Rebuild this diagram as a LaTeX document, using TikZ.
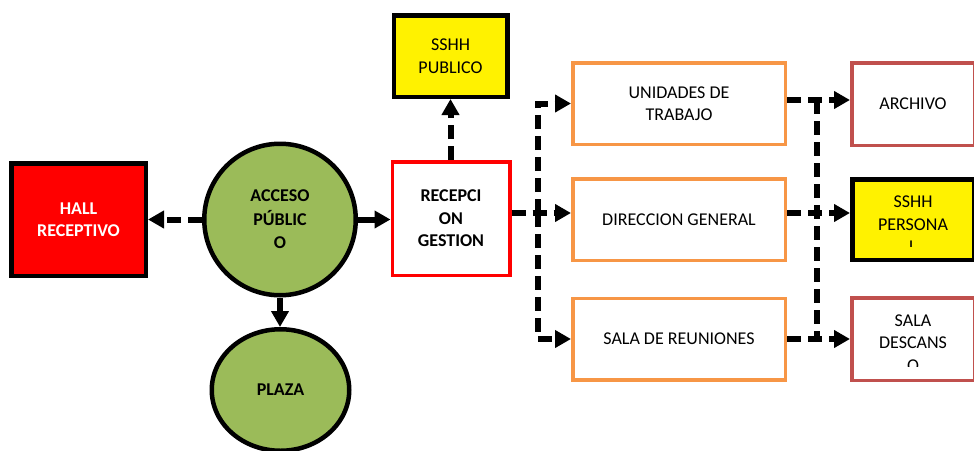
\documentclass[tikz,border=0pt]{standalone}
\usepackage{fontspec}
\setmainfont{Carlito}
\usetikzlibrary{arrows.meta,shapes.geometric}

\definecolor{plazagreen}{HTML}{9BBB59}
\definecolor{officeorange}{HTML}{F79646}
\definecolor{roomred}{HTML}{C0504D}

\tikzset{
  lbl/.style={font=\fontsize{18}{22.5}\selectfont, align=center},
  boxbase/.style={lbl, rectangle, draw, inner sep=0pt},
  hallbox/.style={boxbase, line width=4.5pt, fill=red, text=white, font=\fontsize{18}{22.5}\selectfont\bfseries,
    minimum width=134.5pt, minimum height=112.5pt},
  greencirc/.style={lbl, draw, line width=4.5pt, fill=plazagreen, inner sep=0pt, font=\fontsize{18}{23.5}\selectfont\bfseries},
  recbox/.style={boxbase, line width=3.5pt, draw=red, fill=white, font=\fontsize{18}{22.5}\selectfont\bfseries,
    minimum width=117.5pt, minimum height=113.5pt},
  sshhbox/.style={boxbase, line width=4.5pt, fill=yellow},
  officebox/.style={boxbase, line width=3.5pt, draw=officeorange, fill=white,
    minimum width=212.5pt, minimum height=81.5pt},
  roombox/.style={boxbase, line width=3.5pt, draw=roomred, fill=white,
    minimum width=122.5pt, minimum height=82.5pt},
  dline/.style={line width=6pt, dash pattern=on 14pt off 7pt},
  dconn/.style={dline, -{Triangle[length=16pt,width=17pt]}},
  sconn/.style={line width=6pt, -{Triangle[length=16pt,width=17pt]}}
}

\begin{document}
\begin{tikzpicture}[x=1pt, y=-1pt]
  \useasboundingbox (0,0) rectangle (974,450);

  % left side
  \node[hallbox] (hall) at (78.5,219.5) {HALL\\RECEPTIVO};
  \node[greencirc, circle, minimum size=151.5pt] (acc) at (280,219.5) {ACCESO\\PÚBLIC\\O};
  \node[greencirc, ellipse, minimum width=137.5pt, minimum height=121.5pt] (plaza) at (280.5,390) {PLAZA};

  % reception
  \node[recbox] (rec) at (451,218.5) {RECEPCI\\ON\\GESTION};
  \node[sshhbox, minimum width=113.5pt, minimum height=81.5pt] (pub) at (450.5,56) {SSHH\\PUBLICO};

  % offices
  \node[officebox] (unid) at (679,103.5) {UNIDADES DE\\TRABAJO};
  \node[officebox] (dir) at (679,219.5) {DIRECCION GENERAL};
  \node[officebox] (reun) at (679,339) {SALA DE REUNIONES};

  % rooms on the right
  \node[roombox] (arch) at (913,104) {ARCHIVO};
  \node[sshhbox, minimum width=121.5pt, minimum height=80.5pt] (sper) at (913,219.5) {};
  \node[roombox] (desc) at (913,339) {};
  \begin{scope}
    \clip (853,180) rectangle (974,246);
    \node[lbl] (spertxt) at (913,224.5) {SSHH\\PERSONA\\L};
  \end{scope}
  \begin{scope}
    \clip (853,299) rectangle (974,366);
    \node[lbl] (desctxt) at (913,343) {SALA\\DESCANS\\O};
  \end{scope}

  % connectors
  \coordinate (busa) at (538,213);
  \coordinate (busb) at (817,213);

  \draw[dconn] (acc) -- (hall);
  \draw[sconn] (acc.east) -- (acc.east -| rec.west);
  \draw[sconn] (acc.south) -- (acc.south |- plaza.north);
  \draw[dconn] (rec.north -| pub.south) -- (pub.south);

  \draw[dconn] (rec.east |- busa) -- (dir.west |- busa);
  \draw[dconn] (busa) |- (unid.west);
  \draw[dconn] (busa) |- (reun.west);

  \draw[dconn] ([yshift=3.5pt]unid.east) -- ([yshift=3.5pt]unid.east -| arch.west);
  \draw[dconn] (dir.east |- busb) -- (sper.west |- busb);
  \draw[dconn] (reun.east) -- (desc.west);
  \draw[dline] ([yshift=3.5pt]unid.east -| busb) -- (reun.east -| busb);
\end{tikzpicture}
\end{document}
